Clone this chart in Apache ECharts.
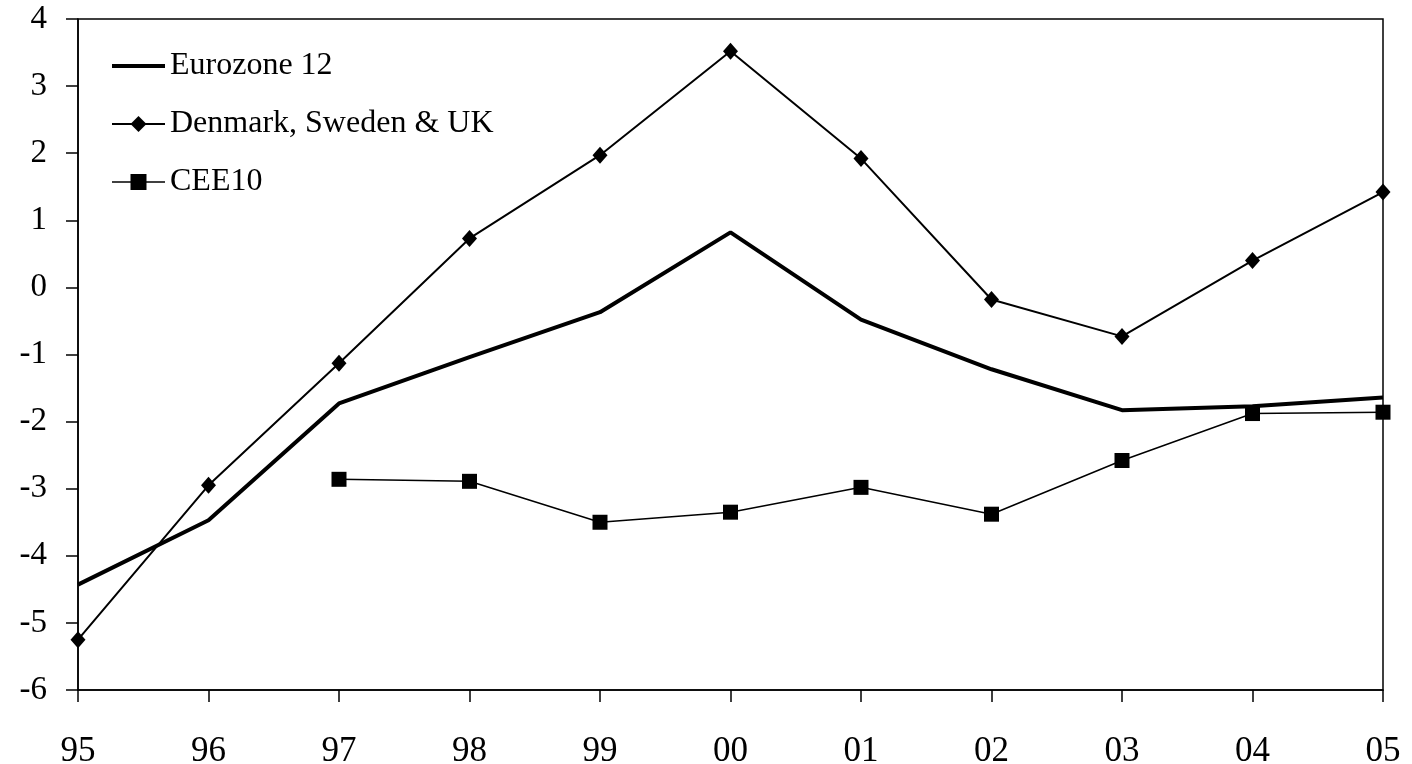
<!DOCTYPE html>
<html>
<head>
<meta charset="utf-8">
<script src="https://cdn.jsdelivr.net/npm/echarts@6/dist/echarts.min.js"></script>
<style>html,body{margin:0;padding:0;background:#fff}#c{width:1412px;height:764px}</style>
</head>
<body>
<div id="c"></div>
<script>
var years = ['95','96','97','98','99','00','01','02','03','04','05'];
var eurozone = [-4.43, -3.47, -1.73, -1.04, -0.37, 0.82, -0.48, -1.22, -1.83, -1.77, -1.64];
var denmarkSwedenUK = [-5.25, -2.95, -1.13, 0.73, 1.97, 3.52, 1.92, -0.18, -0.73, 0.40, 1.42];
var cee10 = [null, null, -2.86, -2.89, -3.50, -3.35, -2.98, -3.38, -2.58, -1.88, -1.86];
var yTicks = {min: -6, max: 4, interval: 1};

var font = 'Liberation Serif';
var chart = echarts.init(document.getElementById('c'));
chart.setOption({
  animation: false,
  backgroundColor: '#fff',
  grid: {left: 78, right: 29, top: 19, bottom: 74, show: true, borderColor: '#000', borderWidth: 1.5,
         backgroundColor: 'transparent', containLabel: false, outerBoundsMode: 'none'},
  legend: {
    orient: 'vertical', left: 110, top: 50, padding: 0, itemWidth: 53, itemHeight: 20, itemGap: 26,
    textStyle: {fontFamily: font, fontSize: 32, color: '#000'},
    data: [
      {name: 'Eurozone 12', itemStyle: {color: 'rgba(0,0,0,0)', borderColor: 'rgba(0,0,0,0)', borderWidth: 0}, lineStyle: {color: '#000', width: 4}},
      {name: 'Denmark, Sweden & UK', lineStyle: {color: '#000', width: 2}},
      {name: 'CEE10', lineStyle: {color: '#000', width: 1.5}}
    ]
  },
  xAxis: {
    type: 'category', data: years, boundaryGap: false,
    axisLine: {onZero: false, lineStyle: {color: '#000', width: 1.5}},
    axisTick: {show: true, length: 12, lineStyle: {color: '#000', width: 1.5}, alignWithLabel: true},
    axisLabel: {fontFamily: font, fontSize: 35, color: '#000', margin: 44, interval: 0},
    splitLine: {show: false}
  },
  yAxis: {
    type: 'value', min: yTicks.min, max: yTicks.max, interval: yTicks.interval,
    axisLine: {show: true, onZero: false, lineStyle: {color: '#000', width: 1.5}},
    axisTick: {show: true, length: 12, inside: false, lineStyle: {color: '#000', width: 1.5}},
    axisLabel: {fontFamily: font, fontSize: 33, color: '#000', margin: 31},
    splitLine: {show: false}
  },
  series: [
    {name: 'Eurozone 12', type: 'line', data: eurozone, symbol: 'none', showSymbol: false,
     lineStyle: {color: '#000', width: 4}, itemStyle: {color: '#000'}},
    {name: 'Denmark, Sweden & UK', type: 'line', data: denmarkSwedenUK, symbol: 'diamond', symbolSize: [15, 17],
     lineStyle: {color: '#000', width: 2}, itemStyle: {color: '#000'}},
    {name: 'CEE10', type: 'line', data: cee10, symbol: 'rect', symbolSize: 15, connectNulls: false,
     lineStyle: {color: '#000', width: 1.5}, itemStyle: {color: '#000'}}
  ]
});
</script>
</body>
</html>
